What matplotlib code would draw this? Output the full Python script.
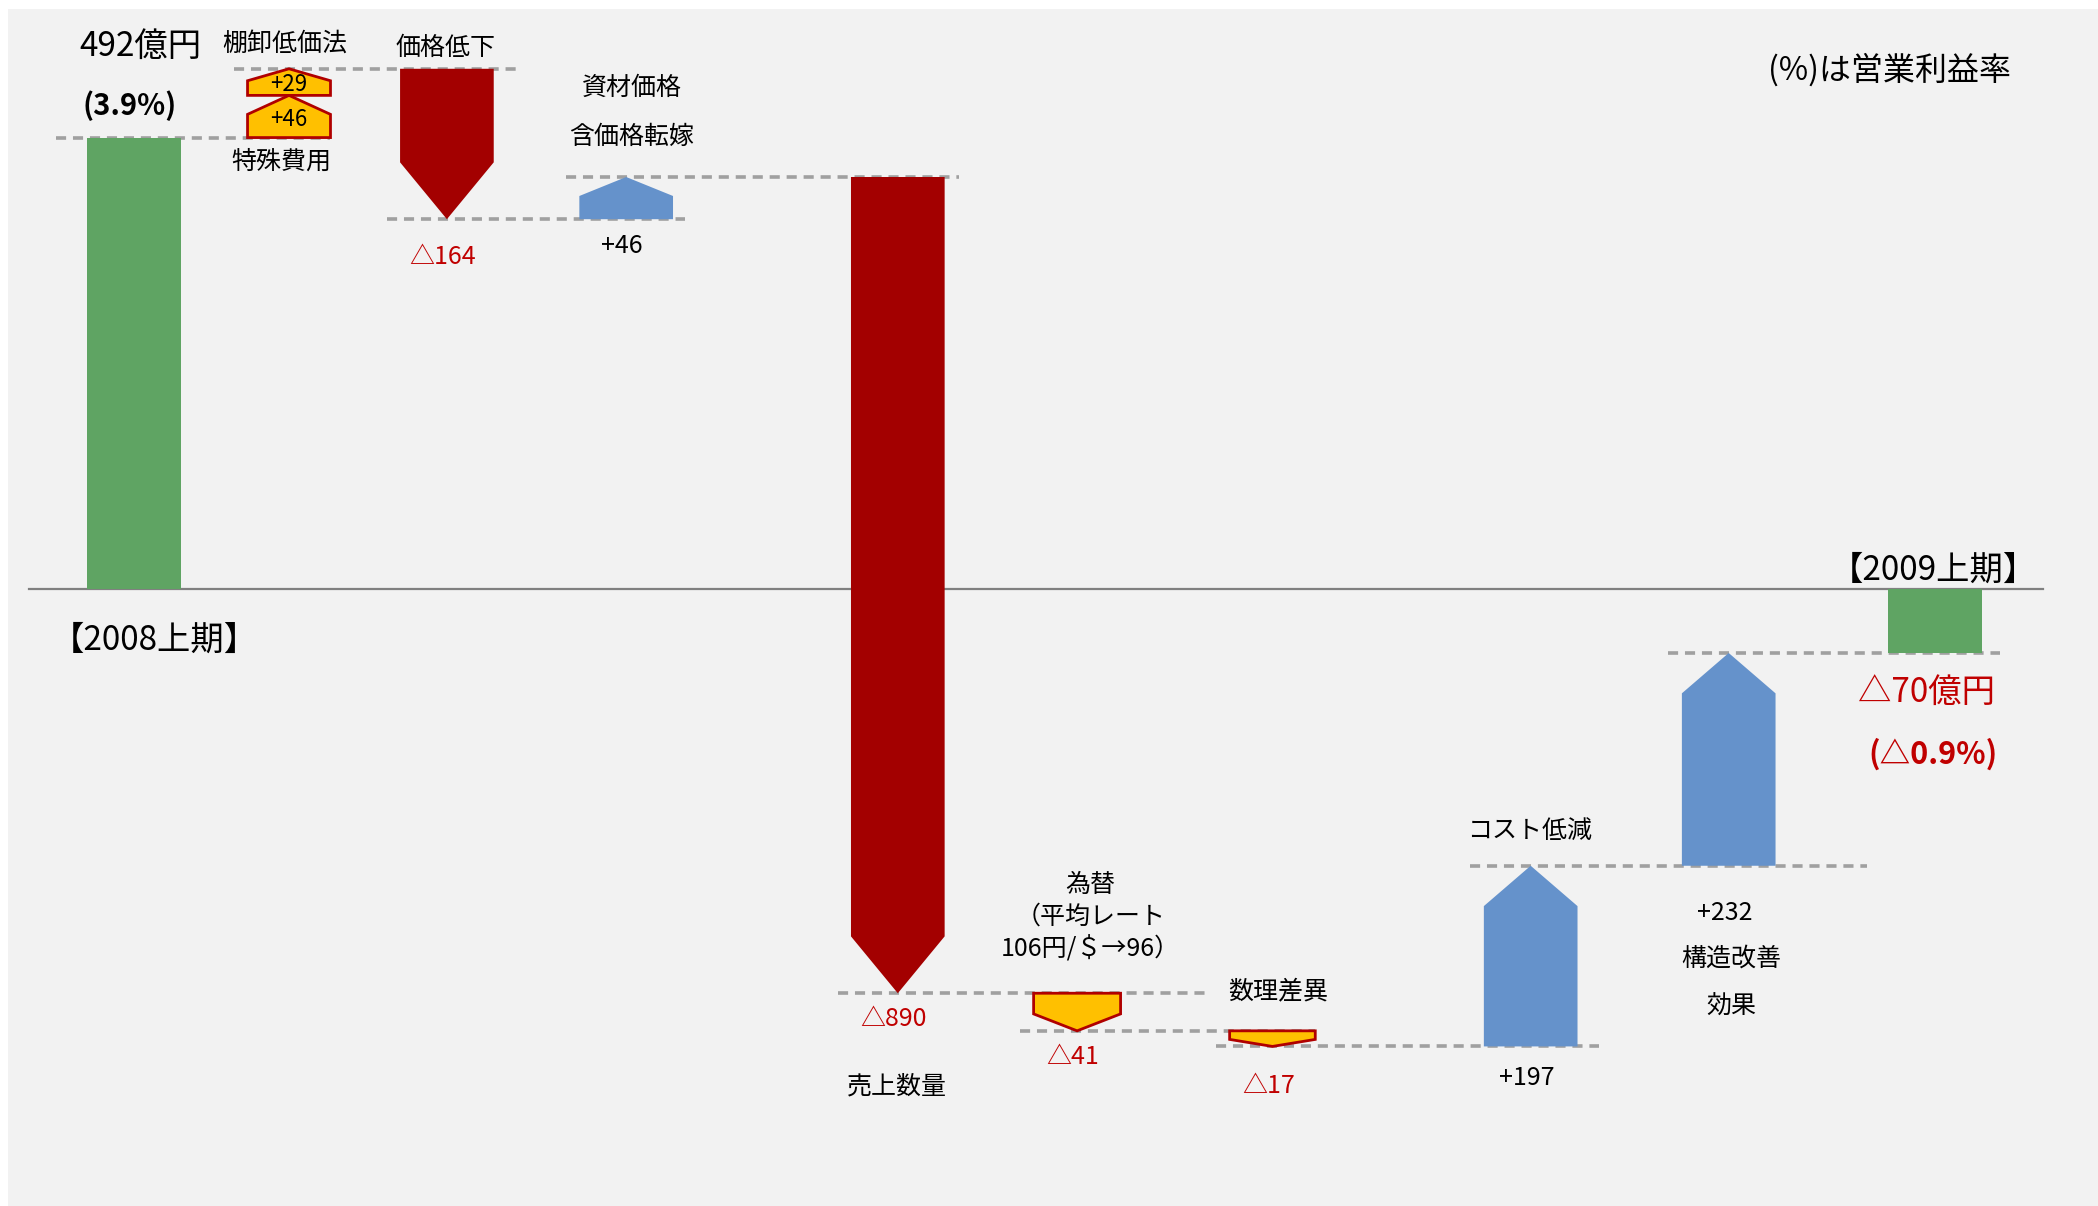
import matplotlib.pyplot as plt
from matplotlib.patches import Polygon, Rectangle

plt.rcParams['font.family'] = ['Noto Sans CJK JP', 'DejaVu Sans']

# 営業利益の増減（億円）
items = ['2008上期', '特殊費用', '棚卸低価法', '価格低下', '資材価格含価格転嫁',
         '売上数量', '為替', '数理差異', 'コスト低減', '構造改善効果', '2009上期']
start_profit = 492
changes = [46, 29, -164, 46, -890, -41, -17, 197, 232]
end_profit = -70
start_margin = '3.9'
end_margin = '△0.9'

# layout: bar centres (page px), widths and colours
slot_x = [100, 216, 216, 334, 468, 671, 805, 951, 1144, 1292, 1446]
bar_w = [70, 62, 62, 70, 70, 70, 65, 64, 70, 70, 70]
kind = ['total', 'special', 'special', 'down', 'up', 'down', 'special', 'special', 'up', 'up', 'total']

GREEN = '#5FA463'
RED = '#A30000'
BLUE = '#6592CB'
YELLOW = '#FFC000'
EDGE = '#B00000'
LABEL_RED = '#C00000'
W, H = 1568, 901

fig = plt.figure(figsize=(20.98, 12.06), dpi=100)
fig.patches.append(Rectangle((6 / W, 0), 1, 1 - 7 / H, transform=fig.transFigure,
                             facecolor='#F2F2F2', edgecolor='none', zorder=-1))
ax = fig.add_axes([0, 0, 1, 1])
ax.set_facecolor('none')
ax.set_xlim(0, W)
ax.set_ylim(-673, 642)
ax.axis('off')


def arrow(x, w, y0, y1, head):
    # pentagon pointing from y0 towards y1
    d = 1 if y1 > y0 else -1
    return [(x - w / 2, y0), (x + w / 2, y0), (x + w / 2, y1 - d * head),
            (x, y1), (x - w / 2, y1 - d * head)]


def page_text(x, y, s, size=18, **kw):
    fig.text(x / W, 1 - y / H, s, fontsize=size, ha='center', va='center', **kw)


def value_text(v):
    return '+%d' % v if v > 0 else '△%d' % -v


# start / end totals
ax.bar(slot_x[0], start_profit, width=bar_w[0], color=GREEN, zorder=3)
ax.bar(slot_x[-1], end_profit, width=bar_w[-1], color=GREEN, zorder=3)

# the step arrows
levels = [start_profit]
for i, v in enumerate(changes):
    j = i + 1
    y0 = levels[-1]
    y1 = y0 + v
    levels.append(y1)
    if kind[j] == 'special':
        cap, fc, ec, lw = 30, YELLOW, EDGE, 2
    elif kind[j] == 'down':
        cap, fc, ec, lw = 62, RED, 'none', 0
    else:
        cap, fc, ec, lw = 44, BLUE, 'none', 0
    head = min(abs(v) * 0.45, cap)
    ax.add_patch(Polygon(arrow(slot_x[j], bar_w[j], y0, y1, head), closed=True,
                         facecolor=fc, edgecolor=ec, linewidth=lw, zorder=3))

# dashed connectors between steps
right_pad = [0, 0, 21, 9, 11, 65, 0, 16, 68, 14]
for i in range(len(levels)):
    if slot_x[i] == slot_x[i + 1]:
        continue
    left = slot_x[i] - bar_w[i] / 2 - (23 if i == 0 else 10)
    right = slot_x[i + 1] + bar_w[i + 1] / 2 + right_pad[i]
    ax.plot([left, right], [levels[i], levels[i]], color='#A0A0A0', lw=2.6,
            dashes=(2.8, 1.9), zorder=2)

# zero line
ax.plot([22, 1527], [0, 0], color='#808080', lw=1.6, zorder=2)

# amounts inside the small stacked arrows
ax.text(slot_x[1], start_profit + changes[0] * 0.42, value_text(changes[0]),
        fontsize=16, ha='center', va='center', zorder=5)
ax.text(slot_x[2], start_profit + changes[0] + changes[1] * 0.4, value_text(changes[1]),
        fontsize=16, ha='center', va='center', zorder=5)

# amounts next to the other arrows
value_pos = {3: 192, 4: 184, 5: 761, 6: 790, 7: 811, 8: 805, 9: 682}
for j, y in value_pos.items():
    v = changes[j - 1]
    page_text(slot_x[j] - 3, y, value_text(v), color=LABEL_RED if v < 0 else 'black')

# item names
page_text(213, 33, '棚卸低価法')
page_text(210, 121, '特殊費用')
page_text(333, 36, '価格低下')
page_text(472, 66, '資材価格')
page_text(472, 102, '含価格転嫁')
page_text(670, 812, '売上数量')
page_text(815, 661, '為替')
page_text(815, 685, '（平均レート')
page_text(815, 709, '106円/＄→96）')
page_text(955, 741, '数理差異')
page_text(1143, 621, 'コスト低減')
page_text(1294, 716, '構造改善')
page_text(1294, 752, '効果')

# totals
page_text(105, 35, '%d億円' % start_profit, size=24)
page_text(97, 79, '(%s%%)' % start_margin, size=21, fontweight='bold')
page_text(1440, 518, '△%d億円' % -end_profit, size=24, color=LABEL_RED)
page_text(1445, 564, '(%s%%)' % end_margin, size=22, fontweight='bold', color=LABEL_RED)
page_text(115, 478, '【%s】' % items[0], size=24)
page_text(1445, 426, '【%s】' % items[-1], size=24)
page_text(1412, 52, '(%)は営業利益率', size=23)

fig.savefig('out.png', dpi=100)
